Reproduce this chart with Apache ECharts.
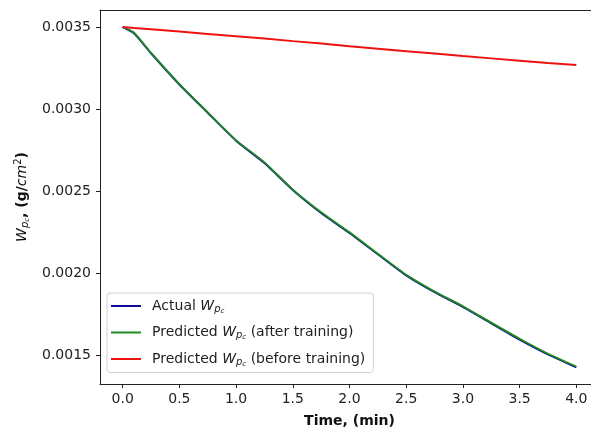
<!DOCTYPE html>
<html>
<head>
<meta charset="utf-8">
<script src="https://cdn.jsdelivr.net/npm/echarts@6/dist/echarts.min.js"></script>
<style>html,body{margin:0;padding:0;background:#fff;}#c{width:591px;height:427px;}</style>
</head>
<body>
<div id="c"></div>
<script>
const time = [0, 0.1, 0.25, 0.5, 0.75, 1.0, 1.25, 1.5, 1.75, 2.0, 2.25, 2.5, 2.75, 3.0, 3.25, 3.5, 3.75, 4.0];
const actual = [0.003500, 0.003462, 0.003340, 0.003150, 0.002978, 0.002808, 0.002672, 0.002508, 0.002368, 0.002246, 0.002116, 0.001988, 0.001886, 0.001796, 0.001696, 0.001597, 0.001507, 0.001428];
const predictedAfter = [0.003500, 0.003465, 0.003342, 0.003152, 0.002980, 0.002810, 0.002676, 0.002510, 0.002372, 0.002250, 0.002120, 0.001992, 0.001890, 0.001800, 0.001700, 0.001602, 0.001511, 0.001433];
const predictedBefore = [0.003500, 0.003494, 0.003486, 0.003472, 0.003458, 0.003444, 0.003430, 0.003414, 0.003399, 0.003383, 0.003368, 0.003353, 0.003338, 0.003323, 0.003309, 0.003295, 0.003281, 0.003268];
const xTicks = [0, 0.5, 1.0, 1.5, 2.0, 2.5, 3.0, 3.5, 4.0];
const yTicks = [0.0015, 0.0020, 0.0025, 0.0030, 0.0035];
const seriesNames = ['Actual', 'PredAfter', 'PredBefore'];
const legendLabels = {
  Actual: 'Actual {it|W}{sub|p}{sub2|c}',
  PredAfter: 'Predicted {it|W}{sub|p}{sub2|c} (after training)',
  PredBefore: 'Predicted {it|W}{sub|p}{sub2|c} (before training)'
};

const F = 'DejaVu Sans';
const chart = echarts.init(document.getElementById('c'), null, {renderer: 'canvas'});
const pairs = a => time.map((t, i) => [t, a[i]]);
chart.setOption({
  animation: false,
  grid: {left: 100, width: 499, top: 10, height: 374, outerBoundsMode: 'none', containLabel: false, show: false},
  xAxis: [{
    type: 'value', min: -0.2, max: 4.2,
    name: 'Time, (min)', nameLocation: 'middle', nameGap: 30,
    nameTextStyle: {fontFamily: F, fontSize: 14, fontWeight: 'bold', color: '#111'},
    axisLine: {show: true, onZero: false, lineStyle: {color: '#222', width: 1}},
    axisTick: {show: true, inside: false, length: 4, customValues: xTicks, lineStyle: {color: '#222'}},
    axisLabel: {customValues: xTicks, margin: 8, fontFamily: F, fontSize: 14, color: '#222', formatter: v => v.toFixed(1)},
    splitLine: {show: false}
  }, {
    type: 'value', position: 'top', min: -0.2, max: 4.2,
    axisLine: {show: true, onZero: false, lineStyle: {color: '#222', width: 1}},
    axisTick: {show: false}, axisLabel: {show: false}, splitLine: {show: false}
  }],
  yAxis: {
    type: 'value', min: 0.0013265, max: 0.0036035,
    name: '{it|W}{sub|p}{sub2|c}{b|, (g/}{it|cm}{sup|2}{b|)}', nameLocation: 'middle', nameGap: 58, nameRotate: 90,
    nameTextStyle: {
      fontFamily: F, fontSize: 14, color: '#111',
      rich: {
        it: {fontFamily: F, fontStyle: 'italic', fontSize: 14, color: '#111'},
        b: {fontFamily: F, fontWeight: 'bold', fontSize: 14, color: '#111'},
        sub: {fontFamily: F, fontStyle: 'italic', fontSize: 10, color: '#111', padding: [6, 0, 0, 0]},
        sub2: {fontFamily: F, fontStyle: 'italic', fontSize: 7, color: '#111', padding: [10, 0, 0, 0]},
        sup: {fontFamily: F, fontSize: 10, color: '#111', padding: [0, 0, 8, 0]}
      }
    },
    axisLine: {show: true, onZero: false, lineStyle: {color: '#222', width: 1}},
    axisTick: {show: true, inside: false, length: 4, customValues: yTicks, lineStyle: {color: '#222'}},
    axisLabel: {customValues: yTicks, margin: 9, fontFamily: F, fontSize: 14, color: '#222', formatter: v => v.toFixed(4)},
    splitLine: {show: false}
  },
  legend: {
    orient: 'vertical', left: 107, top: 293,
    padding: [6, 8, 5, 4], itemGap: 11,
    itemWidth: 30, itemHeight: 16,
    backgroundColor: 'rgba(255,255,255,0.8)', borderColor: '#d0d0d0', borderWidth: 1, borderRadius: 3,
    data: seriesNames.map(n => ({name: n, icon: 'path://M0,0 L30,0 L30,2 L0,2 Z'})),
    formatter: n => legendLabels[n],
    textStyle: {
      fontFamily: F, fontSize: 14, color: '#222', padding: [0, 0, 0, 6],
      rich: {
        it: {fontFamily: F, fontStyle: 'italic', fontSize: 14, color: '#222'},
        sub: {fontFamily: F, fontStyle: 'italic', fontSize: 10, color: '#222', padding: [6, 0, 0, 0]},
        sub2: {fontFamily: F, fontStyle: 'italic', fontSize: 7, color: '#222', padding: [10, 0, 0, 0]}
      }
    }
  },
  series: [
    {name: 'Actual', type: 'line', data: pairs(actual), symbol: 'none', smooth: 0.2, color: '#0a0a9a', lineStyle: {width: 2, color: '#0a0a9a'}, z: 2},
    {name: 'PredAfter', type: 'line', data: pairs(predictedAfter), symbol: 'none', smooth: 0.2, color: '#1f8a1f', lineStyle: {width: 1.8, color: '#1f8a1f'}, z: 3},
    {name: 'PredBefore', type: 'line', data: pairs(predictedBefore), symbol: 'none', color: '#ee1111', lineStyle: {width: 2, color: '#ee1111'}, z: 4}
  ]
});
</script>
</body>
</html>
